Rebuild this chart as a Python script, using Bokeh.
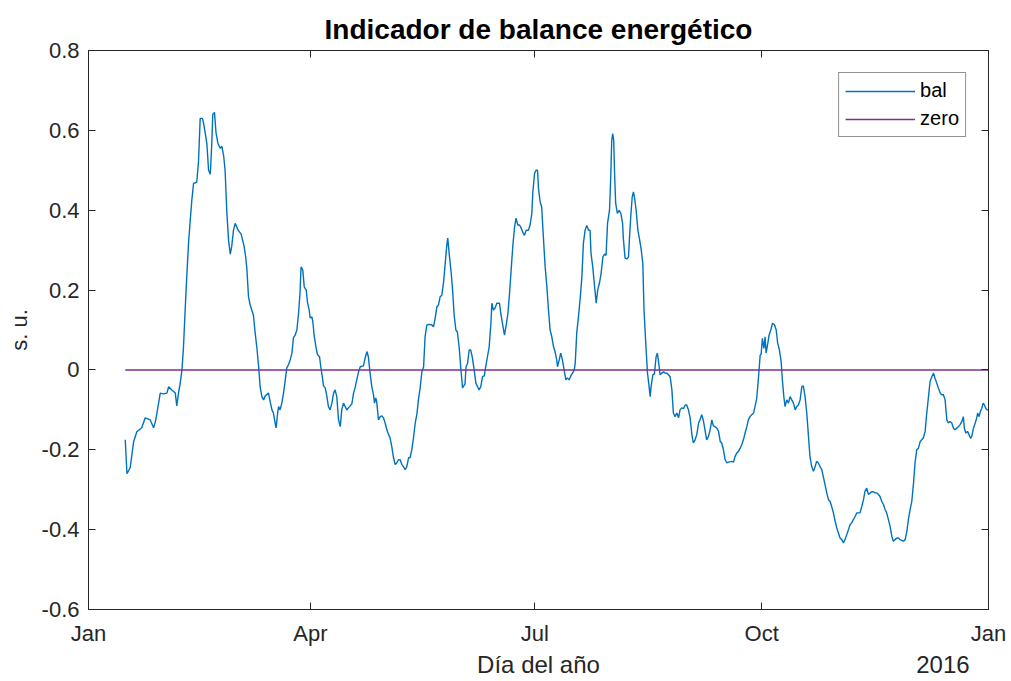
from bokeh.plotting import figure
from bokeh.models import (Range1d, LinearAxis, FixedTicker, CustomJSTickFormatter,
                          Legend, LegendItem)
from bokeh.embed import file_html
from bokeh.resources import INLINE

# ---------------- data (day of year 2015, value) ----------------
bal_day = [
    14.9, 15.6, 16.9, 18.3, 19.6, 21.6, 23.0, 25.0, 26.4, 27.1, 27.7, 29.1, 30.4, 31.8, 32.5, 33.8,
    35.2, 35.8, 36.5, 37.2, 37.9, 38.5, 39.2, 39.9, 40.6, 41.2, 41.9, 42.6, 43.9, 44.6, 45.3, 46.2,
    46.6, 47.3, 48.0, 48.7, 49.4, 50.0, 50.4, 51.1, 51.7, 52.5, 53.4, 54.1, 54.8, 55.4, 56.1, 56.8,
    57.5, 58.1, 58.8, 59.5, 60.7, 61.9, 63.1,
    63.8, 64.2, 64.9, 65.6, 66.9, 67.6, 68.3, 69.0, 69.6, 70.3, 71.0, 71.7, 73.0, 73.7, 74.4, 75.0,
    75.7, 76.1, 76.7, 77.1, 77.7, 78.4, 79.1, 79.8, 80.4, 81.1, 81.8, 82.5, 83.1, 83.8, 84.5, 85.2,
    85.8, 86.2, 86.9, 87.5, 88.3, 88.8, 89.5, 89.9, 90.6, 91.0, 91.5, 92.3, 92.9, 93.7, 94.2, 94.9,
    95.3, 96.0, 96.7, 97.3, 98.0, 98.7, 99.4, 100.0, 100.7, 101.4, 102.1, 102.7, 103.4, 104.1, 104.8,
    105.4, 106.8, 107.5, 108.1, 108.8, 109.5, 110.2, 111.5, 112.2, 112.9, 113.5, 114.2, 114.9, 115.6,
    116.0, 116.5, 116.9, 117.6, 118.3, 119.0, 119.6, 120.3, 121.0, 121.7, 122.3, 123.0, 123.7, 124.4,
    125.0, 125.7, 126.4, 127.1, 127.7, 128.4, 129.1, 129.8, 130.4, 131.1, 131.8, 132.5, 133.2, 133.8,
    134.5, 135.2, 135.9, 136.5, 137.2, 137.9, 139.2, 139.9, 140.6, 141.3, 141.9, 142.6, 143.3, 144.0,
    144.6, 145.3, 145.7, 146.3, 147.1, 147.6, 148.3, 149.0, 149.6, 150.3, 151.0, 151.7,
    152.7, 153.1, 153.7, 154.4, 155.0, 155.7, 156.4, 157.1, 157.8, 158.4, 159.1, 159.8, 160.5, 161.1,
    161.8, 162.5, 163.2, 163.6, 164.2, 164.9, 165.6, 166.7, 167.2, 168.0, 168.7, 169.4, 170.1, 170.7,
    171.4, 172.1, 172.8, 173.4, 174.1, 174.8, 175.5, 176.1, 176.8, 177.5, 178.4, 179.1, 179.8, 180.2,
    180.9, 181.5, 182.1, 182.5, 183.2, 183.8, 184.5, 185.2, 185.9, 186.5, 187.2, 187.9, 188.6, 189.2,
    189.9, 190.2, 190.9, 191.5, 192.2, 192.9, 193.6, 194.2, 194.9, 195.6, 196.3, 197.0,
    197.4, 198.0, 198.7, 199.4, 200.1, 200.7, 201.4, 202.1, 202.8, 203.4, 203.8, 204.5, 205.2, 205.9,
    206.5, 207.2, 207.9, 208.6, 209.3, 209.9, 210.5, 211.3, 211.8, 212.2, 212.6, 213.0, 213.4, 213.8,
    214.5, 215.2, 215.9, 216.6, 216.9, 217.6, 218.3, 219.0, 219.4, 219.9, 220.5, 221.0, 221.5, 222.1,
    222.8, 223.4, 224.1, 224.8, 225.3, 226.0, 226.7, 227.2, 227.8, 228.2, 228.9, 229.5, 230.2, 230.7,
    231.1, 231.8, 232.5, 233.2, 233.9, 234.5, 235.2, 235.9, 236.6, 237.2, 237.9, 238.6, 239.3, 239.9,
    240.6, 241.3, 242.0, 242.6,
    243.3, 244.0, 244.7, 245.3, 246.0, 246.7, 247.4, 248.0, 248.7, 249.4, 250.1, 250.7, 251.4, 252.1,
    252.8, 253.4, 254.1, 254.8, 255.5, 256.2, 256.8, 257.5, 258.2, 258.9, 259.5, 260.9, 261.6, 262.2,
    262.9, 263.6, 264.3, 264.9, 265.6, 266.3, 267.0, 267.6, 268.3, 269.0, 269.7, 270.3, 271.0, 271.7,
    272.4, 272.8, 273.3, 273.9, 274.4, 274.8, 275.5, 276.0, 276.7, 277.4, 278.2, 278.9, 279.5, 280.2,
    280.9, 281.4, 282.0, 282.5, 283.2, 283.9, 284.5, 285.2, 285.9, 286.6, 287.2, 287.9, 288.6, 289.3,
    289.9,
    290.6, 291.3, 292.0, 292.6, 293.3, 294.0, 294.7, 295.3, 296.0, 296.7, 297.4, 298.0, 298.7, 299.4,
    300.1, 300.8, 301.4, 302.1, 302.8, 303.5, 304.1, 304.8, 305.5, 306.2, 306.8, 307.5, 308.2, 308.9,
    309.5, 310.2, 310.9, 311.6, 312.9, 313.6, 314.3, 314.9, 315.6, 316.3, 317.0, 317.6, 318.3, 319.0,
    319.7, 320.4, 321.0, 321.7, 322.4, 323.1, 323.7, 324.4, 325.1, 325.8, 326.4, 327.1, 327.8, 328.5,
    329.1,
    329.8, 330.5, 331.2, 331.9, 332.5, 333.2, 333.9, 334.6, 335.2, 335.9, 336.6, 337.3, 337.9, 338.6,
    339.3, 339.9, 340.6, 341.3, 342.0, 342.7, 343.3, 344.0, 344.7, 345.4, 346.0, 346.7, 347.4, 348.1,
    348.7, 349.4, 350.1, 350.8, 351.4, 352.1, 352.8, 353.5, 354.2, 354.8, 355.2, 355.8, 356.5, 357.1,
    357.7, 358.2, 358.9, 359.6, 360.2, 360.6, 361.2, 361.7, 362.3, 362.8, 363.3, 363.9, 364.4, 365.0,
]
bal_val = [
    -0.175, -0.26, -0.245, -0.18, -0.155, -0.145, -0.12, -0.125, -0.145, -0.13, -0.11, -0.058, -0.06, -0.058, -0.042, -0.05,
    -0.058, -0.09, -0.058, -0.033, 0.0, 0.055, 0.15, 0.24, 0.32, 0.37, 0.425, 0.467, 0.47, 0.52, 0.63, 0.63,
    0.62, 0.595, 0.567, 0.50, 0.49, 0.567, 0.64, 0.645, 0.595, 0.567, 0.555, 0.56, 0.537, 0.50, 0.395, 0.325,
    0.29, 0.31, 0.35, 0.367, 0.35, 0.34, 0.31,
    0.28, 0.255, 0.183, 0.162, 0.137, 0.092, 0.055, 0.008, -0.042, -0.067, -0.075, -0.065, -0.058, -0.08, -0.10, -0.108,
    -0.133, -0.145, -0.108, -0.092, -0.10, -0.083, -0.058, -0.025, 0.005, 0.013, 0.025, 0.042, 0.08, 0.087, 0.10, 0.142,
    0.195, 0.258, 0.25, 0.208, 0.20, 0.17, 0.15, 0.13, 0.133, 0.12, 0.087, 0.055, 0.038, 0.033, 0.008, -0.02,
    -0.04, -0.045, -0.067, -0.092, -0.10, -0.083, -0.058, -0.05, -0.067, -0.125, -0.142, -0.10, -0.083, -0.092, -0.10,
    -0.095, -0.085, -0.058, -0.045, -0.025, -0.005, 0.008, 0.01, 0.03, 0.046, 0.033, -0.008, -0.042, -0.063,
    -0.083, -0.07, -0.08, -0.125, -0.117, -0.115, -0.12, -0.133, -0.15, -0.162, -0.17, -0.192, -0.22, -0.237,
    -0.233, -0.225, -0.225, -0.237, -0.242, -0.25, -0.242, -0.22, -0.22, -0.20, -0.17, -0.133, -0.11, -0.075,
    -0.045, -0.005, 0.008, 0.083, 0.112, 0.114, 0.113, 0.108, 0.13, 0.158, 0.162, 0.183, 0.187, 0.22,
    0.262, 0.312, 0.33, 0.29, 0.242, 0.205, 0.137, 0.10, 0.095, 0.058, 0.004, -0.045,
    -0.035, 0.008, 0.015, 0.05, 0.05, 0.03, 0.0, -0.033, -0.042, -0.05, -0.042, -0.017, -0.015, 0.008,
    0.033, 0.058, 0.117, 0.167, 0.15, 0.155, 0.167, 0.167, 0.142, 0.112, 0.087, 0.112, 0.142, 0.187,
    0.25, 0.312, 0.358, 0.38, 0.363, 0.363, 0.355, 0.345, 0.337, 0.35, 0.35, 0.363, 0.392, 0.445,
    0.492, 0.50, 0.50, 0.454, 0.42, 0.408, 0.33, 0.258, 0.208, 0.154, 0.10, 0.083, 0.058, 0.046,
    0.025, 0.008, 0.025, 0.042, 0.025, 0.0, -0.025, -0.02, -0.025, -0.015, -0.008, 0.0,
    0.017, 0.092, 0.133, 0.179, 0.233, 0.317, 0.35, 0.362, 0.35, 0.35, 0.292, 0.258, 0.212, 0.167,
    0.2, 0.217, 0.242, 0.283, 0.29, 0.287, 0.367, 0.40, 0.483, 0.575, 0.592, 0.575, 0.483, 0.417,
    0.392, 0.40, 0.392, 0.367, 0.33, 0.28, 0.278, 0.283, 0.33, 0.383, 0.433, 0.446, 0.43, 0.40,
    0.35, 0.33, 0.304, 0.267, 0.15, 0.067, -0.008, -0.033, -0.067, -0.04, -0.012, -0.01, 0.033, 0.042,
    0.025, -0.012, -0.008, -0.005, -0.008, -0.008, -0.012, -0.017, -0.05, -0.108, -0.117, -0.108, -0.12, -0.10,
    -0.095, -0.097, -0.088, -0.088,
    -0.10, -0.12, -0.162, -0.183, -0.175, -0.162, -0.133, -0.125, -0.112, -0.128, -0.153, -0.175, -0.167, -0.15,
    -0.125, -0.14, -0.142, -0.146, -0.153, -0.179, -0.183, -0.20, -0.225, -0.233, -0.231, -0.229, -0.231, -0.217,
    -0.208, -0.204, -0.196, -0.188, -0.175, -0.158, -0.142, -0.125, -0.117, -0.112, -0.108, -0.092, -0.071, -0.021,
    0.037, 0.04, 0.079, 0.054, 0.083, 0.042, 0.067, 0.087, 0.10, 0.117, 0.113, 0.10, 0.067, 0.05,
    0.021, -0.025, -0.067, -0.092, -0.075, -0.083, -0.067, -0.075, -0.083, -0.10, -0.092, -0.088, -0.075, -0.042,
    -0.04,
    -0.067, -0.108, -0.167, -0.217, -0.242, -0.254, -0.242, -0.229, -0.233, -0.242, -0.25, -0.267, -0.287, -0.308,
    -0.325, -0.33, -0.342, -0.358, -0.379, -0.396, -0.408, -0.421, -0.425, -0.433, -0.425, -0.413, -0.40, -0.387,
    -0.383, -0.375, -0.367, -0.358, -0.358, -0.342, -0.325, -0.304, -0.296, -0.312, -0.308, -0.305, -0.305, -0.308,
    -0.308, -0.312, -0.317, -0.329, -0.337, -0.35, -0.358, -0.375, -0.392, -0.417, -0.429, -0.425, -0.421, -0.421,
    -0.425,
    -0.427, -0.429, -0.425, -0.404, -0.375, -0.35, -0.329, -0.283, -0.233, -0.20, -0.196, -0.179, -0.175, -0.17,
    -0.154, -0.112, -0.071, -0.029, -0.017, -0.008, -0.021, -0.033, -0.046, -0.058, -0.062, -0.062, -0.075, -0.125,
    -0.133, -0.129, -0.133, -0.146, -0.15, -0.146, -0.142, -0.137, -0.129, -0.117, -0.146, -0.158, -0.154, -0.162,
    -0.171, -0.167, -0.146, -0.133, -0.121, -0.108, -0.117, -0.104, -0.096, -0.083, -0.087, -0.096, -0.1, -0.1,
]
zero_val = [0.0 for _ in bal_day]

month_days = [0, 90, 181, 273, 365]
month_labels = ["Jan", "Apr", "Jul", "Oct", "Jan"]
y_ticks = [-0.6, -0.4, -0.2, 0.0, 0.2, 0.4, 0.6, 0.8]

title_text = "Indicador de balance energético"
x_label = "Día del año"
year_label = "2016"
y_label = "s. u."

# ---------------- styling ----------------
FONT = "Liberation Sans"
AX = "#262626"
BLUE = "#0072BD"
PURPLE = "#7E2F8E"

# where the bottom text line ("Día del año" ... "2016") is centred, in day units
X_LABEL_AT = 182.5
YEAR_LABEL_AT = 346.5

p = figure(width=1011, height=681, output_backend="svg", toolbar_location=None,
           x_range=Range1d(0, 365), y_range=Range1d(-0.6, 0.8),
           min_border_left=88, min_border_right=23, min_border_top=50, min_border_bottom=72,
           background_fill_color="white", border_fill_color="white")

p.xgrid.grid_line_color = None
p.ygrid.grid_line_color = None
p.outline_line_color = AX
p.outline_line_width = 1

r_bal = p.line(bal_day, bal_val, line_color=BLUE, line_width=1.4)
r_zero = p.line(bal_day, zero_val, line_color=PURPLE, line_width=1.4)

# title
p.title.text = title_text
p.title.align = "center"
p.title.text_font = FONT
p.title.text_font_size = "28px"
p.title.text_font_style = "bold"
p.title.text_color = "#000000"
p.title.standoff = 12

def style_axis(ax):
    ax.axis_line_color = AX
    ax.axis_line_width = 1
    ax.major_tick_line_color = AX
    ax.major_tick_in = 7
    ax.major_tick_out = 0
    ax.minor_tick_line_color = None
    ax.major_label_text_font = FONT
    ax.major_label_text_font_size = "22px"
    ax.major_label_text_color = AX
    ax.axis_label_text_font = FONT
    ax.axis_label_text_font_style = "normal"
    ax.axis_label_text_color = AX

xa = p.xaxis[0]
style_axis(xa)
xa.ticker = FixedTicker(ticks=month_days)
xa.major_label_overrides = {d: lab for d, lab in zip(month_days, month_labels)}
xa.major_label_standoff = 11

# second text line below the month labels: axis title and the year
x2 = LinearAxis(ticker=FixedTicker(ticks=[X_LABEL_AT, YEAR_LABEL_AT]))
style_axis(x2)
x2.axis_line_color = None
x2.major_tick_line_color = None
x2.major_label_overrides = {X_LABEL_AT: x_label, YEAR_LABEL_AT: year_label}
x2.major_label_text_font_size = "24px"
x2.major_label_standoff = 2
p.add_layout(x2, "below")

ya = p.yaxis[0]
style_axis(ya)
ya.ticker = FixedTicker(ticks=y_ticks)
ya.formatter = CustomJSTickFormatter(code="""
    const v = Math.round(tick * 10) / 10;
    return v === 0 ? "0" : v.toFixed(1);
""")
ya.major_label_standoff = 9
ya.axis_label = y_label
ya.axis_label_text_font_size = "22px"
ya.axis_label_standoff = 7

# mirror axes (ticks only) on top and right
top = LinearAxis(ticker=FixedTicker(ticks=month_days),
                 formatter=CustomJSTickFormatter(code="return '';"))
style_axis(top)
top.major_label_text_font_size = "0px"
top.major_label_standoff = 0
p.add_layout(top, "above")

right = LinearAxis(ticker=FixedTicker(ticks=y_ticks),
                   formatter=CustomJSTickFormatter(code="return '';"))
style_axis(right)
right.major_label_text_font_size = "0px"
right.major_label_standoff = 0
p.add_layout(right, "right")

legend = Legend(items=[LegendItem(label="bal", renderers=[r_bal]),
                       LegendItem(label="zero", renderers=[r_zero])],
                location="top_right", margin=22, padding=6, spacing=5,
                glyph_width=70, glyph_height=20, label_height=20, label_standoff=5,
                label_text_font=FONT, label_text_font_size="20px", label_text_color="#000000",
                border_line_color=AX, border_line_width=1,
                background_fill_color="white", background_fill_alpha=1.0)
p.add_layout(legend)

open("out.html", "w").write(file_html(p, INLINE))
